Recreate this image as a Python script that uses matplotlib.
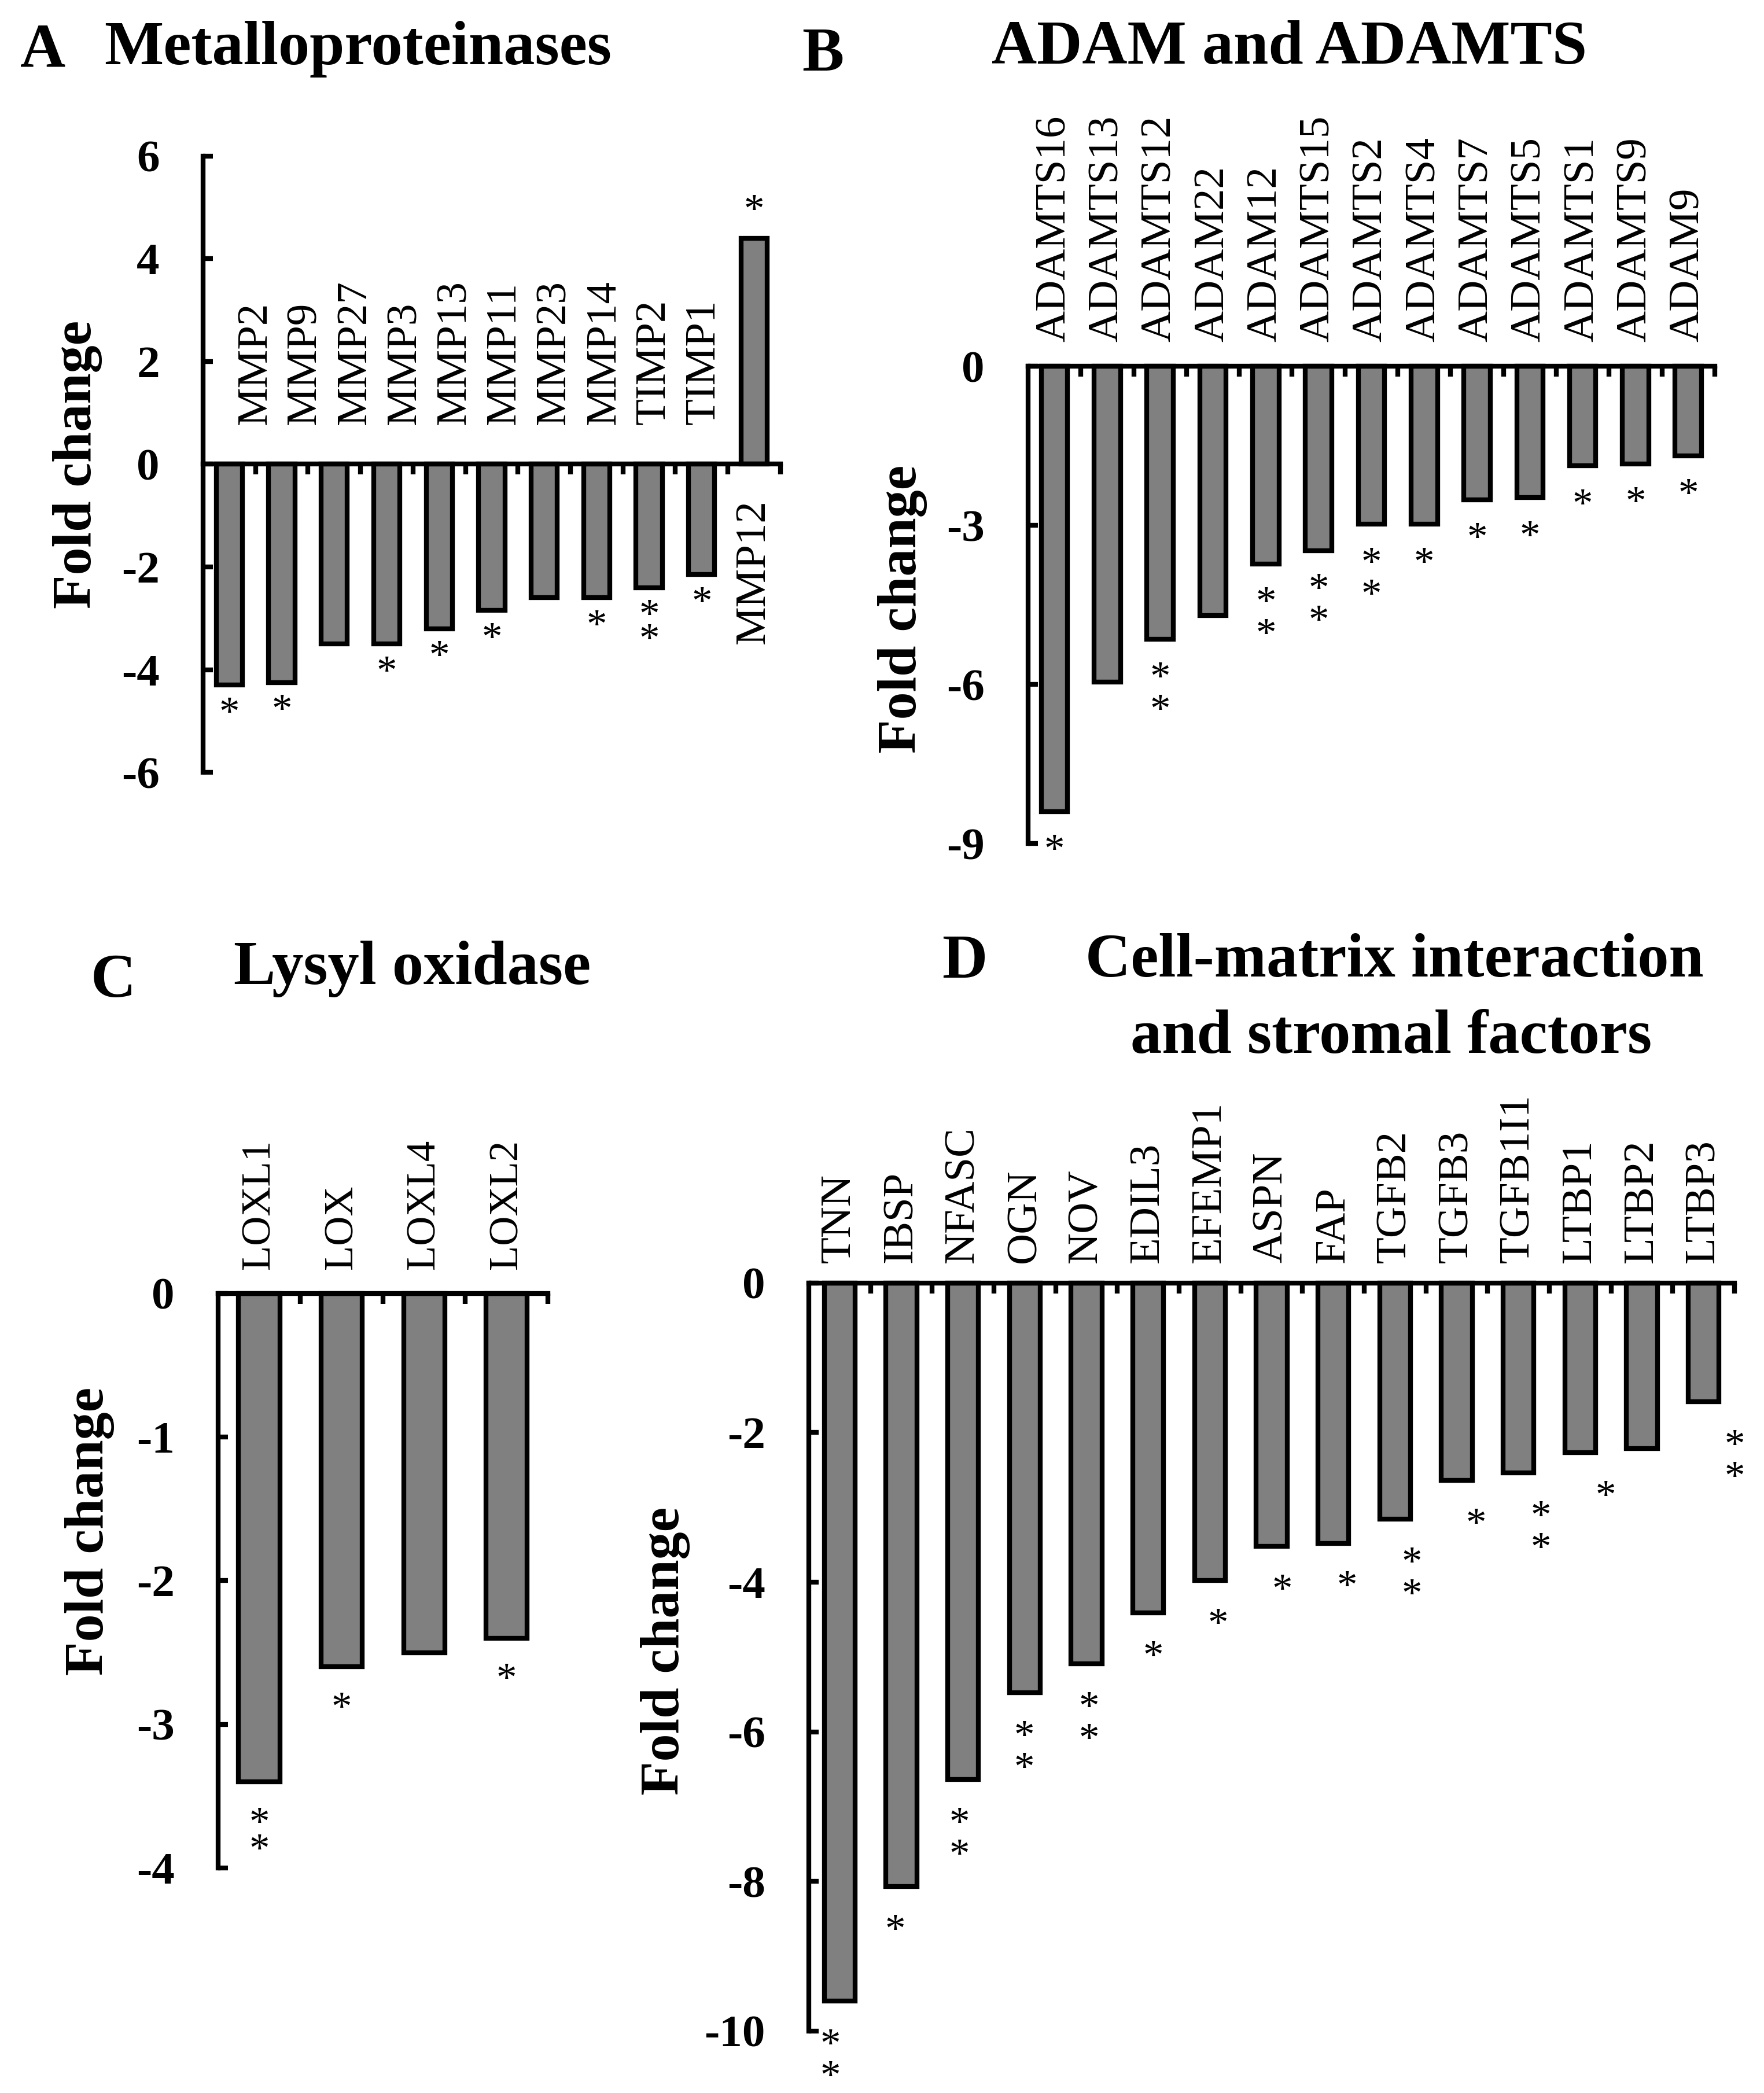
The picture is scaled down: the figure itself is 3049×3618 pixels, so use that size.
import numpy as np
import matplotlib
matplotlib.use("Agg")
import matplotlib.pyplot as plt

plt.rcParams['font.family'] = ['Liberation Serif', 'DejaVu Serif']
plt.rcParams['axes.unicode_minus'] = False

# A - metalloproteinases
a_genes = ['MMP2', 'MMP9', 'MMP27', 'MMP3', 'MMP13', 'MMP11', 'MMP23',
           'MMP14', 'TIMP2', 'TIMP1', 'MMP12']
a_fold = [-4.3, -4.25, -3.5, -3.5, -3.2, -2.85, -2.6, -2.6, -2.4, -2.15, 4.4]
a_sig = ['*', '*', '', '*', '*', '*', '', '*', '**', '*', '*']

# B - ADAM and ADAMTS
b_genes = ['ADAMTS16', 'ADAMTS13', 'ADAMTS12', 'ADAM22', 'ADAM12', 'ADAMTS15',
           'ADAMTS2', 'ADAMTS4', 'ADAMTS7', 'ADAMTS5', 'ADAMTS1', 'ADAMTS9', 'ADAM9']
b_fold = [-8.4, -5.95, -5.15, -4.7, -3.73, -3.48, -2.98, -2.98, -2.52, -2.48,
          -1.88, -1.84, -1.69]
b_sig = ['*', '', '**', '', '**', '**', '**', '*', '*', '*', '*', '*', '*']

# C - lysyl oxidase
c_genes = ['LOXL1', 'LOX', 'LOXL4', 'LOXL2']
c_fold = [-3.4, -2.6, -2.5, -2.4]
c_sig = ['**', '*', '', '*']

# D - cell-matrix interaction and stromal factors
d_genes = ['TNN', 'IBSP', 'NFASC', 'OGN', 'NOV', 'EDIL3', 'EFEMP1', 'ASPN',
           'FAP', 'TGFB2', 'TGFB3', 'TGFB1I1', 'LTBP1', 'LTBP2', 'LTBP3']
d_fold = [-9.6, -8.07, -6.64, -5.48, -5.09, -4.41, -3.98, -3.52, -3.48, -3.16,
          -2.64, -2.54, -2.27, -2.21, -1.59]
d_sig = ['**', '*', '**', '**', '**', '*', '*', '*', '*', '**', '*', '**', '*',
         '', '**']

STAR_SIZE = 17


def draw_panel(ax, genes, fold, sig, yticks, label_gap, star_gap, star_step,
               label_size=18, label_shift=None, star_shift=None):
    n = len(genes)
    x = np.arange(n)
    if label_shift is None:
        label_shift = np.zeros(n)
    if star_shift is None:
        star_shift = np.zeros(n)
    # line spacing that puts stacked stars star_step points apart
    spacing = (star_step / STAR_SIZE - 0.217) / 0.683

    ax.bar(x, fold, width=0.5, color='#808080', edgecolor='black',
           linewidth=2, clip_on=False, zorder=3)
    ax.set_xlim(-0.5, n - 0.5)
    ax.set_ylim(yticks[0], yticks[-1])

    for side in ['top', 'right']:
        ax.spines[side].set_visible(False)
    ax.spines['bottom'].set_position(('data', 0))
    ax.spines['left'].set_linewidth(2)
    ax.spines['bottom'].set_linewidth(2)
    ax.spines['bottom'].set_zorder(4)

    ax.set_xticks(x + 0.5)
    ax.tick_params(axis='x', direction='out', length=4.3, width=2,
                   labelbottom=False)
    ax.set_yticks(yticks)
    ax.set_yticklabels(['%d' % t for t in yticks], fontweight='bold')
    ax.tick_params(axis='y', direction='in', length=4, width=2,
                   labelsize=19, pad=18)

    for i in range(n):
        v = fold[i]
        if v < 0:
            ax.annotate(genes[i], (x[i] + label_shift[i], 0),
                        xytext=(0, label_gap), textcoords='offset points',
                        rotation=90, ha='center', va='bottom',
                        fontsize=label_size, annotation_clip=False)
        else:
            ax.annotate(genes[i], (x[i] + label_shift[i], 0),
                        xytext=(0, -14.6), textcoords='offset points',
                        rotation=90, ha='center', va='top',
                        fontsize=label_size, annotation_clip=False)
        if not sig[i]:
            continue
        stars = '\n'.join(sig[i])
        if v < 0:
            dy = -(star_gap - 0.18 * STAR_SIZE)
        else:
            dy = 15.6 + 0.18 * STAR_SIZE
        ax.annotate(stars, (x[i] + star_shift[i], v), xytext=(0, dy),
                    textcoords='offset points', ha='center', va='top',
                    fontsize=STAR_SIZE, linespacing=spacing,
                    annotation_clip=False)


fig = plt.figure(figsize=(3049 / 300, 3618 / 300), dpi=300)

ax_a = fig.add_axes([0.1151, 0.6310, 0.3273, 0.2944])
draw_panel(ax_a, a_genes, a_fold, a_sig, np.arange(-6, 7, 2), 16.5, 7.5, 10,
           label_shift=np.r_[np.linspace(0.5, 0.05, 10), 0])

ax_b = fig.add_axes([0.5828, 0.5970, 0.3893, 0.2280])
draw_panel(ax_b, b_genes, b_fold, b_sig, np.arange(-9, 1, 3), 10, 12, 13)

ax_c = fig.add_axes([0.1236, 0.1075, 0.1870, 0.2745])
draw_panel(ax_c, c_genes, c_fold, c_sig, np.arange(-4, 1, 1), 10, 13, 11,
           label_size=17)

ax_d = fig.add_axes([0.4585, 0.0296, 0.5248, 0.3574])
draw_panel(ax_d, d_genes, d_fold, d_sig, np.arange(-10, 1, 2), 8.4, 14, 13,
           star_shift=np.linspace(-0.15, 0.5, len(d_genes)))

# panel letters and titles
title_kw = dict(fontsize=26, fontweight='bold', va='baseline')
fig.text(0.0115, 0.9682, 'A', **title_kw)
fig.text(0.059, 0.9693, 'Metalloproteinases', **title_kw)
fig.text(0.4546, 0.9663, 'B', **title_kw)
fig.text(0.5622, 0.9695, 'ADAM and ADAMTS', **title_kw)
fig.text(0.0515, 0.5238, 'C', **title_kw)
fig.text(0.1326, 0.5299, 'Lysyl oxidase', **title_kw)
fig.text(0.534, 0.5330, 'D', **title_kw)
fig.text(0.7906, 0.5334, 'Cell-matrix interaction', ha='center', **title_kw)
fig.text(0.7886, 0.4970, 'and stromal factors', ha='center', **title_kw)

ylab_kw = dict(fontsize=23, fontweight='bold', rotation=90,
               ha='center', va='center')
fig.text(0.044, 0.778, 'Fold change', **ylab_kw)
fig.text(0.5116, 0.709, 'Fold change', **ylab_kw)
fig.text(0.0508, 0.2684, 'Fold change', **ylab_kw)
fig.text(0.3772, 0.2112, 'Fold change', **ylab_kw)

fig.savefig('out.png', dpi=300)
